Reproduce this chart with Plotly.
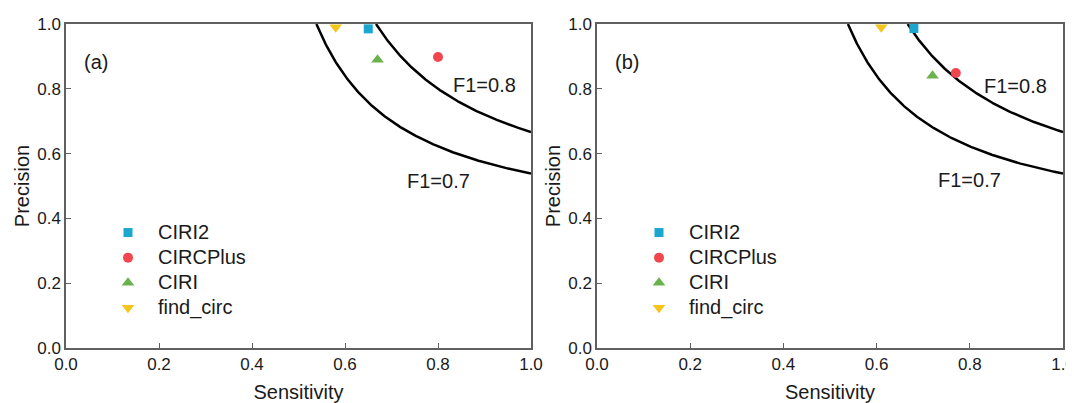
import numpy as np
import plotly.graph_objects as go

methods = ["CIRI2", "CIRCPlus", "CIRI", "find_circ"]
colors = ["#1ba6cf", "#f2464f", "#6ab24e", "#f5c51c"]
symbols = ["square", "circle", "triangle-up", "triangle-down"]
sizes = [9, 10, 11, 11]

sens_a = [0.65, 0.80, 0.67, 0.58]
prec_a = [0.985, 0.898, 0.89, 0.99]
sens_b = [0.68, 0.77, 0.72, 0.61]
prec_b = [0.986, 0.849, 0.84, 0.99]

f1_levels = [0.7, 0.8]
f1_label_pos_a = [(0.80, 0.515), (0.90, 0.813)]
f1_label_pos_b = [(0.80, 0.52), (0.899, 0.81)]
panel_labels = ["(a)", "(b)"]
ticks = [0.0, 0.2, 0.4, 0.6, 0.8, 1.0]

# the page body has an 8px default margin; lay the figure out in page pixels minus it
OFF = 8
W, H = 1074 - OFF, 403 - OFF
ML, MR, MT, MB = 66 - OFF, 11, 24 - OFF, 55
PW = W - ML - MR
PH = H - MT - MB
dom_a = [0, (531 - 66) / PW]
dom_b = [(597 - 66) / PW, 1]

fig = go.Figure()
FONT = "Liberation Sans, Arial, sans-serif"
TXT = "#1a1a1a"

for p, (sens, prec, xa, ya, leg) in enumerate([
        (sens_a, prec_a, "x", "y", "legend"),
        (sens_b, prec_b, "x2", "y2", "legend2")]):
    for f in f1_levels:
        r = np.linspace(f / (2 - f), 1.0, 300)
        pr = f * r / (2 * r - f)
        fig.add_trace(go.Scatter(x=r, y=pr, mode="lines", xaxis=xa, yaxis=ya,
                                 line=dict(color="black", width=2.5),
                                 showlegend=False, hoverinfo="skip"))
    for i, m in enumerate(methods):
        fig.add_trace(go.Scatter(x=[sens[i]], y=[prec[i]], mode="markers",
                                 name=f"<span style='font-size:20px'>{m}</span>",
                                 xaxis=xa, yaxis=ya, legend=leg,
                                 marker=dict(color=colors[i], symbol=symbols[i],
                                             size=sizes[i], line=dict(width=0))))

axis_common = dict(range=[0, 1], tickvals=ticks, ticktext=[f"{t:.1f}" for t in ticks],
                   ticks="inside", ticklen=5, tickwidth=1.2, tickcolor="#606060",
                   showline=True, linecolor="#606060", linewidth=1.5, mirror=True,
                   showgrid=False, zeroline=False, automargin=False,
                   ticklabeloverflow="allow",
                   tickfont=dict(size=17, color=TXT, family=FONT))

xtitle = dict(text="Sensitivity", font=dict(size=20, color=TXT), standoff=13)
ytitle = dict(text="Precision", font=dict(size=20, color=TXT), standoff=2)

leg_common = dict(xanchor="left", yanchor="top",
                  font=dict(size=17, family=FONT, color=TXT),
                  bgcolor="rgba(0,0,0,0)", itemwidth=50)

leg_top = 215  # page px
fig.update_layout(
    width=W, height=H,
    margin=dict(l=ML, r=MR, t=MT, b=MB),
    plot_bgcolor="white", paper_bgcolor="white",
    font=dict(family=FONT, color=TXT),
    xaxis=dict(domain=dom_a, anchor="y", title=xtitle, **axis_common),
    yaxis=dict(domain=[0, 1], anchor="x", title=ytitle, **axis_common),
    xaxis2=dict(domain=dom_b, anchor="y2", title=xtitle, **axis_common),
    yaxis2=dict(domain=[0, 1], anchor="x2", title=ytitle, **axis_common),
    legend=dict(x=(98 - 66) / PW, y=1 - (leg_top - 24) / PH, **leg_common),
    legend2=dict(x=(629 - 66) / PW, y=1 - (leg_top - 24) / PH, **leg_common),
)

annotations = []
for p, (xr, yr, pos) in enumerate([("x", "y", f1_label_pos_a), ("x2", "y2", f1_label_pos_b)]):
    annotations.append(dict(x=0.035, y=0.883, xref=xr, yref=yr, text=panel_labels[p],
                            showarrow=False, xanchor="left",
                            font=dict(size=20, family=FONT, color=TXT)))
    for f, (lx, ly) in zip(f1_levels, pos):
        annotations.append(dict(x=lx, y=ly, xref=xr, yref=yr, text=f"F1={f}",
                                showarrow=False,
                                font=dict(size=20, family=FONT, color=TXT)))
fig.update_layout(annotations=annotations)

fig.write_html("out.html",
               post_script="document.documentElement.style.overflow='hidden';"
                           "document.body.style.overflow='hidden';")
